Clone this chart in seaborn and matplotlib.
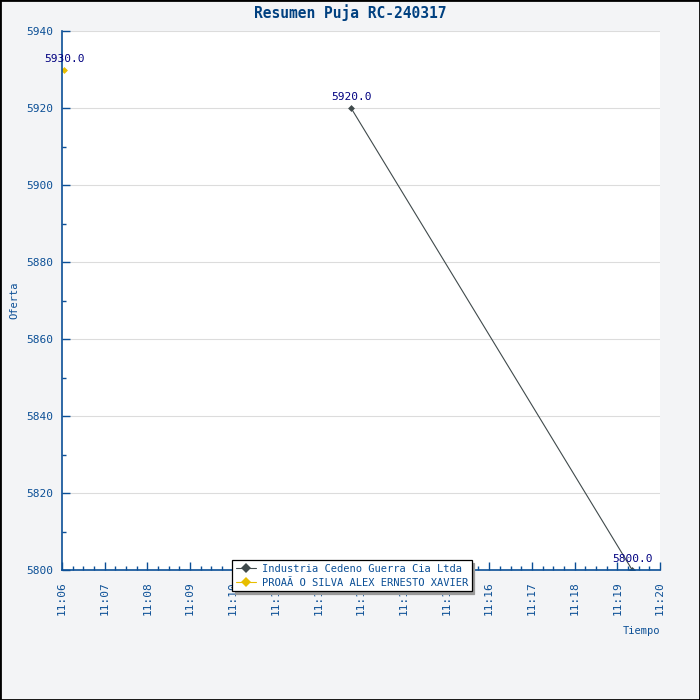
import matplotlib
matplotlib.use("Agg")
import matplotlib.pyplot as plt
import matplotlib.dates as mdates
import seaborn as sns
import pandas as pd

title = "Resumen Puja RC-240317"
series_names = ["Industria Cedeno Guerra Cia Ltda", "PROAÃ O SILVA ALEX ERNESTO XAVIER"]
times_a = ["2024-03-17 11:12:46", "2024-03-17 11:19:21"]
values_a = [5920.0, 5800.0]
times_b = ["2024-03-17 11:06:03"]
values_b = [5930.0]
colors = ["#404a4c", "#e8be00"]
x_start = "2024-03-17 11:06:00"
x_end = "2024-03-17 11:20:00"
y_min, y_max = 5800, 5940

df = pd.concat([
    pd.DataFrame({"t": pd.to_datetime(times_a), "v": values_a, "s": series_names[0]}),
    pd.DataFrame({"t": pd.to_datetime(times_b), "v": values_b, "s": series_names[1]}),
])

sns.set_style("white")
plt.rcParams["font.family"] = ["DejaVu Sans Mono", "DejaVu Sans"]

blue = "#0b4f96"
fig = plt.figure(figsize=(7, 7), dpi=100, facecolor="#f3f4f6")
ax = fig.add_axes([62/700, 130/700, 598/700, 539/700])
ax.set_facecolor("white")

sns.lineplot(data=df, x="t", y="v", hue="s", palette=colors, marker="D",
             markersize=3.5, linewidth=0.8, markeredgewidth=0, ax=ax)

for t, v in zip(df["t"], df["v"]):
    ax.annotate(f"{v:.1f}", (mdates.date2num(t), v), xytext=(0, 4),
                textcoords="offset points", ha="center", va="bottom",
                color="#000080", fontsize=8)

ax.set_xlim(pd.Timestamp(x_start), pd.Timestamp(x_end))
ax.set_ylim(y_min, y_max)
ax.xaxis.set_major_locator(mdates.MinuteLocator(interval=1))
ax.xaxis.set_minor_locator(mdates.SecondLocator(bysecond=[15, 30, 45]))
ax.xaxis.set_major_formatter(mdates.DateFormatter("%H:%M"))
ax.yaxis.set_major_locator(plt.MultipleLocator(20))
ax.yaxis.set_minor_locator(plt.MultipleLocator(10))

ax.grid(axis="y", which="major", color="#dcdcdc", linewidth=0.8)
ax.grid(axis="x", visible=False)
for s in ["top", "right"]:
    ax.spines[s].set_visible(False)
for s in ["left", "bottom"]:
    ax.spines[s].set_color(blue)
    ax.spines[s].set_linewidth(1.2)

ax.tick_params(axis="both", which="both", bottom=True, left=True, top=False, right=False)
ax.tick_params(axis="both", which="major", direction="in", length=6, width=1,
               color=blue, labelcolor=blue, labelsize=8)
ax.tick_params(axis="both", which="minor", direction="in", length=3, width=1,
               color=blue)
ax.tick_params(axis="x", which="major", rotation=90, pad=8)
ax.tick_params(axis="y", which="major", pad=6)

ax.set_xlabel("")
ax.set_ylabel("")
fig.text(14/700, 1 - 300/700, "Oferta", rotation=90, ha="center", va="center",
         color=blue, fontsize=7.5)
fig.text(660/700, 1 - 631/700, "Tiempo", ha="right", va="center",
         color=blue, fontsize=7.5)
fig.text(350/700, 1 - 13/700, title, ha="center", va="center",
         color="#004080", fontsize=10.5, fontweight="bold")

leg = ax.legend(loc="upper left", bbox_to_anchor=(232/700, 1 - 560/700),
                bbox_transform=fig.transFigure, frameon=True, fancybox=False,
                shadow={"color": "#999999", "alpha": 1}, fontsize=7.5,
                borderpad=0.35, labelspacing=0.4, handlelength=2.0,
                handletextpad=0.5, borderaxespad=0)
leg.get_frame().set_edgecolor("black")
leg.get_frame().set_linewidth(0.9)
leg.set_zorder(10)
for txt in leg.get_texts():
    txt.set_color(blue)
for h in leg.legend_handles:
    h.set_markersize(5)

border = plt.Rectangle((0, 0), 1, 1, transform=fig.transFigure, fill=False,
                       edgecolor="black", linewidth=2)
fig.patches.append(border)

fig.savefig("out.png", dpi=100, facecolor=fig.get_facecolor())
